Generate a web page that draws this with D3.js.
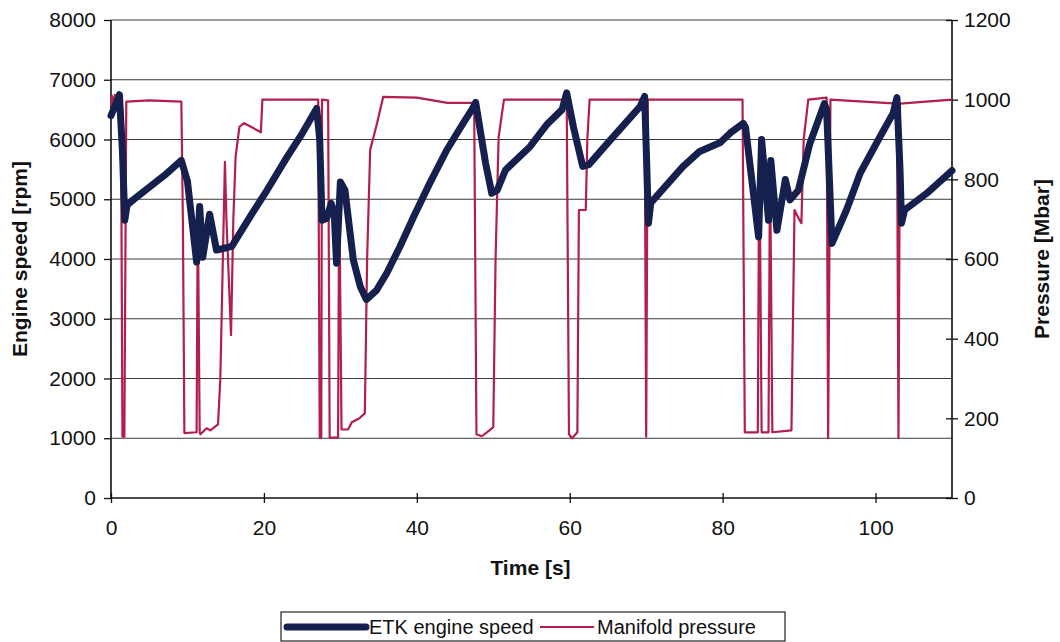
<!DOCTYPE html>
<html>
<head>
<meta charset="utf-8">
<script src="https://cdn.jsdelivr.net/npm/d3@7"></script>
<style>
  html, body { margin: 0; padding: 0; background: #ffffff; }
  svg { display: block; font-family: "Liberation Sans", Arial, sans-serif; }
</style>
</head>
<body>
<svg id="chart" width="1060" height="642"></svg>
<script>
// ---------------- DATA ----------------
const speedTime = [0, 0.5, 1.1, 1.5, 1.8, 2.1, 3, 5, 7, 9.2, 10, 11.2, 11.6, 12.0, 12.9, 13.8, 14.8, 15.8, 18.2, 20.4, 23, 25, 26.9,
  27.3, 27.6, 28.2, 28.8, 29.2, 29.5, 30.0, 30.6, 31.7, 32.6, 33.4, 34.75, 36.1, 37.8, 39.6, 41.7, 43.9, 46.1, 47.2, 47.7,
  49.0, 49.8, 50.5, 51.6, 54.8, 57, 59, 59.6, 60.5, 61.7, 62.5, 65.3, 69.2, 69.8, 70.3, 70.6, 74.8, 77, 79.7, 81, 82.7,
  83.0, 84.7, 85.1, 86.0, 86.3, 87.1, 88.2, 88.8, 89.9, 91.4, 93.3, 93.6, 94.3, 96.2, 98, 100.6, 102.3, 102.8, 103.2,
  103.4, 103.8, 106.7, 110];
const speedRpm = [6400, 6550, 6750, 5800, 4650, 4900, 5000, 5200, 5400, 5650, 5300, 3950, 4880, 4030, 4750, 4150, 4180, 4210, 4710, 5150, 5700, 6100, 6520,
  6000, 4650, 4680, 4930, 4750, 3930, 5290, 5150, 3980, 3540, 3320, 3480, 3770, 4210, 4710, 5270, 5820, 6280, 6500, 6620,
  5600, 5100, 5150, 5490, 5880, 6250, 6500, 6780, 6200, 5550, 5580, 5990, 6550, 6720, 4600, 4940, 5545, 5800, 5950, 6110, 6270,
  6200, 4370, 6000, 4650, 5650, 4480, 5330, 4990, 5150, 5930, 6600, 6500, 4260, 4820, 5440, 6050, 6440, 6700, 5500,
  4600, 4820, 5100, 5480];

const pressTime = [0, 0.1, 0.2, 0.3, 0.4, 0.5, 0.6, 0.7, 0.8, 0.9, 1.0, 1.1, 1.2, 1.3, 1.5, 1.75, 2.0, 5, 9.2, 9.4, 9.6, 11.2, 11.35, 11.6, 11.7, 12.5, 13.0, 14.0, 14.3, 14.9, 15.1,
  15.7, 16.0, 16.3, 16.8, 17.4, 18.5, 19.6, 19.8, 26.9, 27.1, 27.3, 27.5, 27.6, 28.4, 28.6, 29.7, 29.85, 30.15, 31.0, 31.5,
  32.5, 33.2, 33.5, 33.9, 34.8, 35.6, 40, 44, 47.5, 47.8, 48.5, 49.5, 50.0, 50.3, 50.7, 51.4, 59.4, 59.6, 59.9, 60.3,
  61.0, 61.2, 62.1, 62.3, 62.6, 69.8, 70.0, 70.2, 82.6, 82.9, 84.6, 84.8, 85.1, 86.0, 86.2, 86.5, 89.0, 89.4, 90.0,
  90.3, 90.6, 91.2, 93.6, 93.8, 94.1, 102.8, 103.0, 103.2, 110];
const pressMbar = [990, 1010, 975, 1005, 980, 1012, 985, 1008, 978, 1010, 985, 1005, 995, 990, 154, 154, 995, 998, 995, 700, 163, 165, 736, 165, 160, 175, 170, 185, 300, 844, 700,
  409, 700, 857, 932, 941, 930, 918, 1000, 1000, 1000, 151, 151, 1000, 998, 151, 152, 791, 172, 172, 190,
  200, 213, 600, 874, 941, 1007, 1005, 992, 992, 160, 155, 170, 178, 600, 906, 1000, 1000, 1010, 160, 150,
  165, 723, 723, 900, 1000, 1000, 154, 1000, 1000, 165, 165, 903, 165, 165, 849, 165, 170, 723, 700,
  690, 900, 1000, 1005, 150, 1000, 990, 150, 990, 1000];

const timeTicks = [0, 20, 40, 60, 80, 100];
const rpmTicks = [0, 1000, 2000, 3000, 4000, 5000, 6000, 7000, 8000];
const pressTicks = [0, 200, 400, 600, 800, 1000, 1200];
const seriesNames = ["ETK engine speed", "Manifold pressure"];
const titles = { x: "Time [s]", yLeft: "Engine speed [rpm]", yRight: "Pressure [Mbar]" };

// ---------------- LAYOUT ----------------
const svg = d3.select("#chart");
const L = 111, R = 952, T = 20, B = 498;
const blue = "#16204e", red = "#b21f4c";

const x = d3.scaleLinear().domain([0, 110]).range([L, R]);
const yL = d3.scaleLinear().domain([0, 8000]).range([B, T]);
const yR = d3.scaleLinear().domain([0, 1200]).range([B, T]);

// gridlines
svg.append("g").selectAll("line").data(rpmTicks.filter(d => d > 0)).join("line")
  .attr("x1", L).attr("x2", R)
  .attr("y1", d => yL(d)).attr("y2", d => yL(d))
  .attr("stroke", "#3a3a3a").attr("stroke-width", 1.2);

// axes
const fs = "21px";
const gL = svg.append("g").attr("transform", `translate(${L},0)`)
  .call(d3.axisLeft(yL).tickValues(rpmTicks).tickSize(7).tickPadding(8).tickFormat(d3.format("d")));
const gR = svg.append("g").attr("transform", `translate(${R},0)`)
  .call(d3.axisRight(yR).tickValues(pressTicks).tickSize(6).tickPadding(6).tickFormat(d3.format("d")));
const gB = svg.append("g").attr("transform", `translate(0,${B})`)
  .call(d3.axisBottom(x).tickValues(timeTicks).tickSize(6).tickPadding(16).tickFormat(d3.format("d")));

[gL, gR, gB].forEach(g => {
  g.select(".domain").attr("stroke", "#111").attr("stroke-width", 1.6);
  g.selectAll(".tick line").attr("stroke", "#111").attr("stroke-width", 1.3);
  g.selectAll(".tick text").attr("font-size", fs).attr("fill", "#111")
    .attr("font-family", "'Liberation Sans', Arial, sans-serif");
});
gR.selectAll(".tick line").attr("x1", -6).attr("x2", 6);
gB.selectAll(".tick line").attr("y1", -5).attr("y2", 5);
gL.select(".domain").attr("d", `M0,${T}V${B}`);
gR.select(".domain").attr("d", `M0,${T}V${B}`);
gB.select(".domain").attr("d", `M${L},0H${R}`);

// lines
const speedData = speedTime.map((t, i) => [t, speedRpm[i]]);
const pressData = pressTime.map((t, i) => [t, pressMbar[i]]);

svg.append("path").datum(pressData)
  .attr("fill", "none").attr("stroke", red).attr("stroke-width", 2.2)
  .attr("stroke-linejoin", "round")
  .attr("d", d3.line().x(d => x(d[0])).y(d => yR(d[1])));

svg.append("path").datum(speedData)
  .attr("fill", "none").attr("stroke", blue).attr("stroke-width", 7)
  .attr("stroke-linejoin", "round").attr("stroke-linecap", "round")
  .attr("d", d3.line().x(d => x(d[0])).y(d => yL(d[1])));

// axis titles
svg.append("text").attr("x", (L + R) / 2 - 1).attr("y", 575)
  .attr("text-anchor", "middle").attr("font-size", "21px").attr("font-weight", "bold")
  .attr("fill", "#111").text(titles.x);
svg.append("text").attr("transform", `translate(27,${(T + B) / 2}) rotate(-90)`)
  .attr("text-anchor", "middle").attr("font-size", "21px").attr("font-weight", "bold")
  .attr("fill", "#111").text(titles.yLeft);
svg.append("text").attr("transform", `translate(1049,${(T + B) / 2}) rotate(-90)`)
  .attr("text-anchor", "middle").attr("font-size", "21px").attr("font-weight", "bold")
  .attr("fill", "#111").text(titles.yRight);

// legend
const lg = svg.append("g");
lg.append("rect").attr("x", 281).attr("y", 612).attr("width", 504).attr("height", 29)
  .attr("fill", "#fff").attr("stroke", "#222").attr("stroke-width", 1.2);
lg.append("line").attr("x1", 287).attr("x2", 366).attr("y1", 627).attr("y2", 627)
  .attr("stroke", blue).attr("stroke-width", 7).attr("stroke-linecap", "round");
lg.append("text").attr("x", 369).attr("y", 634).attr("font-size", "20px").attr("fill", "#111").text(seriesNames[0]);
lg.append("line").attr("x1", 540).attr("x2", 594).attr("y1", 627).attr("y2", 627)
  .attr("stroke", red).attr("stroke-width", 2.2);
lg.append("text").attr("x", 597).attr("y", 634).attr("font-size", "20px").attr("fill", "#111").text(seriesNames[1]);
</script>
</body>
</html>
